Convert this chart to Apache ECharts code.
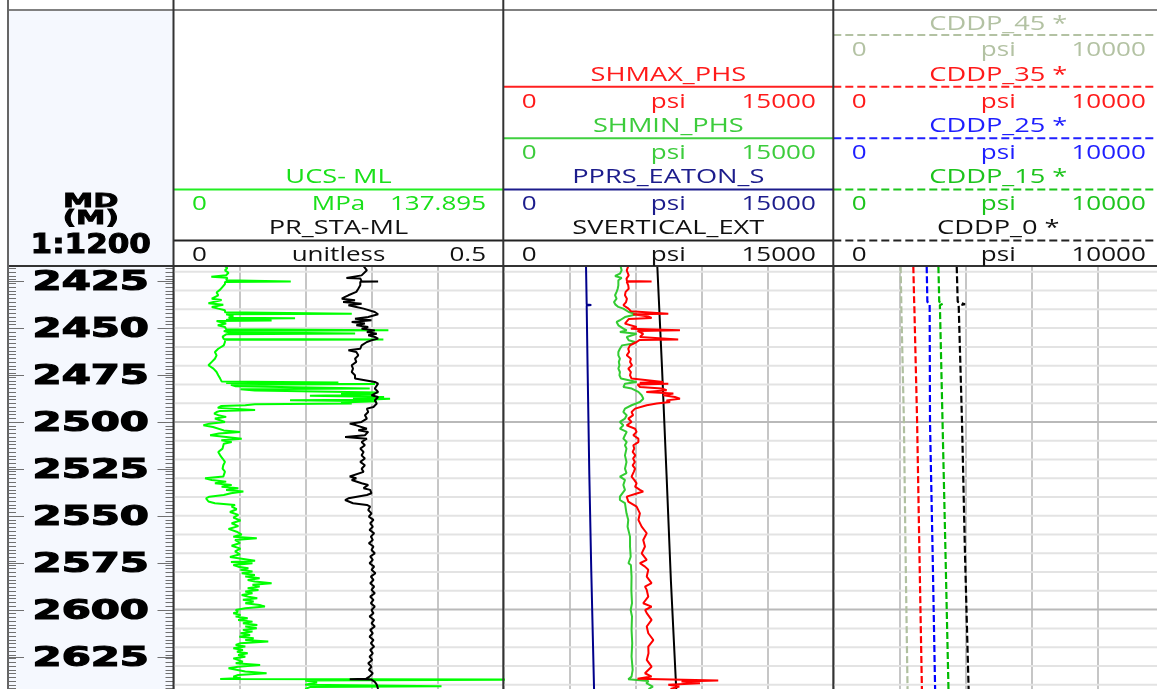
<!DOCTYPE html>
<html><head><meta charset="utf-8">
<script src="https://cdn.jsdelivr.net/npm/echarts@6/dist/echarts.min.js"></script>
<style>html,body{margin:0;padding:0;background:#fff;overflow:hidden}#c{width:1157px;height:689px}</style>
</head><body><div id="c"></div>
<script>
// ---------------- depth axis ----------------
const depthMin = 2416.9, depthMax = 2642.3;
const depthLabels = [2425, 2450, 2475, 2500, 2525, 2550, 2575, 2600, 2625];
const gridDepths = [2420,2430,2440,2450,2460,2470,2480,2490,2500,2510,2520,2530,2540,2550,2560,2570,2580,2590,2600,2610,2620,2630,2640];
const minorTickStep = 2;

// ---------------- curves: [depth (m), value] ----------------
const ucsData = [[2417.0,21.5],[2418.0,22.5],[2419.2,21.5],[2420.5,23.0],[2421.8,22.0],[2422.6,15.8],[2423.2,22.5],[2424.5,22.0],[2425.0,22.0],[2425.2,49.0],[2425.4,21.5],[2426.5,21.5],[2428.0,20.5],[2429.5,19.5],[2431.0,18.0],[2432.5,18.7],[2434.3,16.0],[2435.0,20.1],[2436.7,14.6],[2437.6,20.8],[2438.7,16.0],[2439.6,18.7],[2440.5,21.5],[2441.6,21.5],[2442.3,74.5],[2442.6,22.0],[2443.5,25.0],[2444.5,23.0],[2444.7,50.8],[2445.0,25.0],[2445.7,22.0],[2445.9,41.0],[2446.2,18.0],[2447.5,22.0],[2448.5,18.5],[2449.4,21.5],[2450.6,22.0],[2451.2,89.8],[2451.5,21.0],[2452.2,23.0],[2452.9,75.9],[2453.3,22.0],[2454.5,20.5],[2455.8,21.0],[2456.0,87.7],[2456.3,21.5],[2457.4,21.5],[2459.2,21.0],[2461.0,18.7],[2462.7,17.3],[2464.5,18.0],[2466.3,17.3],[2468.0,16.0],[2469.8,14.6],[2471.6,16.7],[2473.4,18.0],[2475.1,18.7],[2476.9,19.5],[2478.4,20.1],[2479.0,68.9],[2479.3,22.0],[2479.8,84.2],[2480.2,24.0],[2481.0,26.0],[2482.2,82.0],[2482.6,28.0],[2483.3,34.0],[2483.8,60.0],[2484.3,85.6],[2484.9,70.0],[2485.5,84.0],[2486.1,57.0],[2486.7,88.0],[2487.2,75.0],[2487.6,90.5],[2488.2,80.0],[2488.5,48.7],[2489.0,85.0],[2489.6,70.0],[2490.2,74.5],[2490.6,34.0],[2491.1,30.0],[2491.5,20.0],[2492.5,18.5],[2493.0,19.0],[2493.6,34.1],[2494.1,19.5],[2494.7,18.0],[2495.5,17.0],[2496.4,18.7],[2497.3,22.0],[2498.2,17.3],[2499.1,18.0],[2500.0,21.5],[2500.9,15.0],[2501.8,12.5],[2502.7,16.5],[2503.6,17.3],[2504.5,21.0],[2505.3,27.8],[2506.2,19.0],[2507.1,15.3],[2508.0,22.0],[2508.9,28.5],[2509.8,20.0],[2510.7,24.3],[2511.6,21.0],[2512.4,21.5],[2514.2,20.5],[2516.0,18.7],[2517.8,19.5],[2519.5,20.5],[2521.3,21.5],[2523.1,20.8],[2524.9,20.5],[2526.5,21.5],[2527.3,22.0],[2529.1,20.8],[2530.0,13.2],[2530.9,16.0],[2531.8,22.0],[2532.7,17.3],[2533.6,24.3],[2534.5,20.1],[2535.3,27.1],[2536.2,22.0],[2537.1,29.2],[2538.0,24.0],[2538.9,21.0],[2539.8,15.0],[2540.7,13.6],[2541.6,13.9],[2542.4,14.6],[2543.3,17.3],[2544.2,25.7],[2545.1,24.3],[2546.5,26.4],[2548.0,23.6],[2549.5,27.1],[2551.0,25.0],[2552.5,28.0],[2554.0,24.3],[2555.5,27.1],[2557.0,23.0],[2558.5,26.4],[2560.0,28.5],[2561.2,25.0],[2562.0,34.8],[2562.9,25.7],[2564.5,27.8],[2566.0,24.3],[2567.5,28.0],[2569.0,25.7],[2570.5,27.8],[2572.0,23.6],[2573.9,34.1],[2574.6,24.0],[2575.3,33.0],[2576.2,25.0],[2577.1,27.0],[2578.0,31.3],[2578.8,28.0],[2579.7,33.0],[2580.6,28.5],[2581.5,34.0],[2582.4,30.0],[2583.3,36.0],[2584.2,31.0],[2585.0,34.0],[2585.9,41.0],[2586.8,33.0],[2587.7,36.0],[2588.6,31.0],[2589.5,35.5],[2590.4,30.0],[2591.3,33.0],[2592.2,28.5],[2593.1,31.3],[2594.0,35.0],[2594.8,29.0],[2595.7,33.5],[2596.6,30.0],[2597.5,36.0],[2598.4,38.2],[2599.3,30.0],[2600.2,26.0],[2601.1,27.0],[2601.9,25.0],[2602.8,28.0],[2603.7,26.0],[2604.6,31.0],[2605.5,27.0],[2606.4,33.0],[2607.3,29.0],[2608.2,35.0],[2609.0,30.0],[2609.9,34.8],[2610.8,29.0],[2611.7,33.0],[2612.6,28.0],[2613.5,32.0],[2614.4,27.5],[2615.3,33.5],[2616.2,30.0],[2617.0,39.6],[2617.9,28.0],[2618.8,26.0],[2619.7,30.0],[2620.6,25.0],[2621.5,29.0],[2622.4,26.5],[2623.3,31.0],[2624.2,27.0],[2625.1,30.0],[2626.0,25.0],[2626.8,24.3],[2627.7,29.0],[2628.6,26.0],[2629.5,36.2],[2630.4,27.0],[2631.3,23.0],[2632.1,22.9],[2633.0,30.0],[2633.9,38.9],[2634.8,27.0],[2635.7,25.0],[2636.5,28.0],[2637.0,19.5],[2637.3,145],[2637.8,55],[2638.8,60],[2640.0,55],[2640.8,112],[2641.3,57],[2642.3,55]];

const prData = [[2417.0,0.288],[2419.2,0.293],[2421.9,0.285],[2423.3,0.262],[2423.6,0.283],[2425.0,0.285],[2425.15,0.310],[2425.3,0.283],[2427.2,0.283],[2429.0,0.280],[2430.7,0.277],[2432.5,0.265],[2433.4,0.260],[2434.3,0.255],[2435.2,0.275],[2436.1,0.257],[2437.0,0.285],[2437.8,0.265],[2438.7,0.277],[2439.6,0.288],[2441.4,0.305],[2442.6,0.310],[2444.1,0.295],[2445.0,0.275],[2445.8,0.300],[2446.7,0.270],[2447.6,0.290],[2448.5,0.277],[2449.4,0.295],[2450.3,0.285],[2451.2,0.305],[2452.1,0.293],[2453.0,0.308],[2453.8,0.295],[2454.7,0.305],[2455.6,0.310],[2456.5,0.300],[2457.4,0.293],[2459.2,0.285],[2461.0,0.283],[2461.8,0.265],[2462.7,0.277],[2464.5,0.280],[2466.3,0.275],[2468.0,0.277],[2469.8,0.270],[2471.6,0.272],[2473.4,0.270],[2475.1,0.275],[2476.9,0.275],[2477.8,0.272],[2478.7,0.305],[2479.6,0.310],[2480.5,0.313],[2482.2,0.305],[2484.0,0.310],[2485.8,0.300],[2486.7,0.310],[2488.5,0.305],[2490.2,0.308],[2491.1,0.310],[2492.0,0.303],[2492.9,0.293],[2494.7,0.295],[2496.4,0.290],[2498.2,0.293],[2500.0,0.285],[2500.9,0.267],[2501.8,0.277],[2503.6,0.293],[2504.4,0.280],[2505.3,0.295],[2507.1,0.290],[2508.0,0.260],[2508.9,0.293],[2510.7,0.285],[2512.4,0.290],[2514.2,0.283],[2516.0,0.288],[2517.8,0.285],[2519.5,0.290],[2521.3,0.283],[2523.1,0.290],[2524.9,0.285],[2526.6,0.288],[2527.3,0.285],[2529.1,0.267],[2530.0,0.277],[2530.9,0.270],[2532.7,0.285],[2533.6,0.295],[2535.3,0.288],[2536.2,0.298],[2538.0,0.300],[2538.9,0.293],[2540.7,0.265],[2541.6,0.260],[2542.4,0.262],[2543.3,0.272],[2544.2,0.293],[2545.1,0.298],[2546.9,0.295],[2548.7,0.300],[2550.5,0.296],[2552.2,0.303],[2554.0,0.298],[2555.8,0.302],[2557.5,0.297],[2559.3,0.304],[2561.1,0.299],[2562.9,0.302],[2564.6,0.296],[2566.4,0.303],[2568.2,0.300],[2570.0,0.305],[2571.7,0.298],[2573.5,0.302],[2575.3,0.297],[2577.1,0.304],[2578.8,0.300],[2580.6,0.306],[2582.4,0.299],[2584.2,0.303],[2585.9,0.298],[2587.7,0.304],[2589.5,0.300],[2591.3,0.305],[2593.1,0.298],[2594.8,0.303],[2596.6,0.299],[2598.4,0.305],[2600.2,0.300],[2601.9,0.303],[2603.7,0.297],[2605.5,0.304],[2607.3,0.300],[2609.0,0.305],[2610.8,0.298],[2612.6,0.302],[2614.4,0.297],[2616.2,0.303],[2617.9,0.299],[2619.7,0.304],[2621.5,0.298],[2623.3,0.302],[2625.1,0.297],[2626.8,0.301],[2628.6,0.295],[2630.4,0.300],[2632.1,0.296],[2633.9,0.302],[2635.7,0.297],[2636.8,0.292],[2637.1,0.267],[2637.3,0.300],[2638.5,0.305],[2640.0,0.308],[2642.3,0.310]];

const shmaxData = [[2417.0,5680],[2419.2,5610],[2421.9,5700],[2423.6,5600],[2424.9,5620],[2425.1,6740],[2425.3,5610],[2427.2,5680],[2429.0,5700],[2430.7,5560],[2432.5,5530],[2434.3,5620],[2436.1,5580],[2437.8,5460],[2439.6,5690],[2441.0,5800],[2442.3,7500],[2442.6,5900],[2443.8,6590],[2444.6,6740],[2445.2,5700],[2447.6,5530],[2449.4,6060],[2450.3,5800],[2451.2,8030],[2451.5,6100],[2453.0,6360],[2454.7,6210],[2456.0,7950],[2456.3,6200],[2457.4,6060],[2459.2,5760],[2461.0,5680],[2462.7,5720],[2464.5,5610],[2466.3,5800],[2468.0,5760],[2469.8,5850],[2471.6,5680],[2473.4,5800],[2475.1,5760],[2476.9,5830],[2477.8,5900],[2478.7,7270],[2479.1,6200],[2479.6,7500],[2480.0,6100],[2481.4,6210],[2482.2,7200],[2483.1,7425],[2484.0,6500],[2484.9,7730],[2485.8,7270],[2486.7,7800],[2487.6,8030],[2488.5,7420],[2489.4,7580],[2490.2,6970],[2491.1,6520],[2492.9,5990],[2494.7,5830],[2496.4,5900],[2498.2,5680],[2500.0,5830],[2501.8,5610],[2503.6,5990],[2505.3,6060],[2507.1,5910],[2508.9,6140],[2510.7,6140],[2512.4,5910],[2514.2,5950],[2516.0,5880],[2517.8,6000],[2519.5,5900],[2521.3,5980],[2523.1,5880],[2524.9,5990],[2526.6,5930],[2527.3,5990],[2529.1,5830],[2530.9,5950],[2532.7,6060],[2534.5,5990],[2536.2,6210],[2537.1,6360],[2538.0,6100],[2539.8,5610],[2542.4,5680],[2545.1,6060],[2548.7,6210],[2552.2,6140],[2555.8,6290],[2559.3,6520],[2562.9,6360],[2566.4,6440],[2570.0,6290],[2573.5,6520],[2575.3,6210],[2577.1,6440],[2578.8,6590],[2582.4,6520],[2585.9,6740],[2587.7,6440],[2589.5,6520],[2593.1,6590],[2596.6,6360],[2598.4,6740],[2600.2,6450],[2601.9,6520],[2605.5,6740],[2609.0,6520],[2612.6,6590],[2616.2,6820],[2619.7,6590],[2623.3,6600],[2626.8,6520],[2630.4,6740],[2633.9,6440],[2635.7,6740],[2636.8,6100],[2637.1,6060],[2637.8,9770],[2638.3,8100],[2639.2,8940],[2640.1,7500],[2641.0,8000],[2642.3,7600]];

const shminData = [[2417.0,5330],[2419.2,5380],[2421.0,5300],[2422.2,5080],[2423.3,5380],[2424.5,5230],[2425.4,5300],[2427.2,5230],[2429.0,5200],[2430.7,5150],[2432.5,5080],[2434.3,5150],[2436.1,5030],[2437.5,5100],[2438.7,5230],[2439.6,5456],[2441.4,5700],[2442.6,6060],[2444.1,5530],[2445.8,5300],[2446.7,5150],[2448.5,5230],[2450.3,5460],[2451.2,5610],[2452.1,5300],[2453.0,6060],[2454.7,5610],[2456.5,5700],[2457.4,5990],[2458.3,5840],[2459.2,5400],[2461.0,5300],[2462.7,5230],[2464.5,5230],[2466.3,5300],[2468.0,5250],[2469.8,5280],[2471.6,5230],[2473.4,5300],[2475.1,5280],[2476.9,5350],[2477.8,5380],[2478.7,6060],[2479.6,5530],[2481.4,5460],[2482.2,5840],[2484.0,6140],[2485.8,6290],[2487.6,6365],[2489.4,6210],[2491.1,5830],[2492.9,5530],[2494.7,5456],[2496.4,5610],[2498.2,5530],[2500.0,5300],[2501.8,5456],[2503.6,5300],[2505.3,5610],[2507.1,5530],[2508.9,5456],[2510.7,5610],[2512.4,5530],[2514.2,5600],[2517.8,5530],[2521.3,5600],[2524.9,5530],[2527.3,5600],[2529.1,5300],[2530.9,5530],[2533.6,5456],[2536.2,5530],[2539.8,5300],[2541.6,5300],[2543.3,5530],[2548.7,5600],[2552.2,5680],[2555.8,5650],[2561.1,5760],[2566.4,5760],[2571.8,5790],[2575.3,5690],[2576.2,5800],[2582.4,5830],[2589.5,5820],[2596.6,5850],[2600.2,5790],[2603.7,5850],[2610.8,5830],[2617.9,5860],[2625.0,5830],[2632.1,5880],[2635.7,5830],[2637.1,5680],[2638.0,6600],[2639.2,6500],[2641.0,6800],[2642.3,6600]];

const pprsData = [[2417.0,3760],[2437.4,3790],[2437.7,4000],[2438.0,3790],[2470.0,3830],[2528.0,3910],[2580.0,4000],[2642.3,4125]];
const svertData = [[2417.0,7000],[2470.0,7210],[2528.0,7420],[2585.0,7620],[2642.3,7860]];

const cddp45Data = [[2417.0,2040],[2436.0,2060],[2437.0,2110],[2437.8,2060],[2500.0,2140],[2570.0,2190],[2642.3,2250]];
const cddp35Data = [[2417.0,2425],[2436.0,2450],[2437.0,2510],[2437.8,2455],[2500.0,2540],[2570.0,2610],[2642.3,2685]];
const cddp25Data = [[2417.0,2830],[2436.0,2850],[2437.0,2920],[2437.8,2860],[2500.0,2930],[2570.0,3010],[2642.3,3085]];
const cddp15Data = [[2417.0,3185],[2436.0,3210],[2437.0,3320],[2437.8,3230],[2500.0,3310],[2570.0,3400],[2642.3,3490]];
const cddp0Data  = [[2417.0,3740],[2436.0,3770],[2437.3,3990],[2438.0,3800],[2500.0,3900],[2570.0,3990],[2642.3,4100]];

// ---------------- header texts ----------------
const track1Scale = {min: 0, max: 137.895, prMax: 0.5};
const track2Scale = {min: 0, max: 15000};
const track3Scale = {min: 0, max: 10000};
const track1Heads = [
  {row: 3, name: 'UCS- ML', unit: 'MPa', lo: '0', hi: '137.895', color: '#1ae01a', line: '#22ee22'},
  {row: 4, name: 'PR_STA-ML', unit: 'unitless', lo: '0', hi: '0.5', color: '#111111', line: '#222222'}
];
const track2Heads = [
  {row: 1, name: 'SHMAX_PHS', unit: 'psi', lo: '0', hi: '15000', color: '#ff1a1a', line: '#ff2020'},
  {row: 2, name: 'SHMIN_PHS', unit: 'psi', lo: '0', hi: '15000', color: '#3ccc3c', line: '#40d040'},
  {row: 3, name: 'PPRS_EATON_S', unit: 'psi', lo: '0', hi: '15000', color: '#1c1c8c', line: '#1c1c8c'},
  {row: 4, name: 'SVERTICAL_EXT', unit: 'psi', lo: '0', hi: '15000', color: '#111111', line: '#222222'}
];
const track3Heads = [
  {row: 0, name: 'CDDP_45 *', unit: 'psi', lo: '0', hi: '10000', color: '#b3c2a3', line: '#b3c2a3'},
  {row: 1, name: 'CDDP_35 *', unit: 'psi', lo: '0', hi: '10000', color: '#ff1a1a', line: '#ff2020'},
  {row: 2, name: 'CDDP_25 *', unit: 'psi', lo: '0', hi: '10000', color: '#1e1eff', line: '#2020ff'},
  {row: 3, name: 'CDDP_15 *', unit: 'psi', lo: '0', hi: '10000', color: '#1cc41c', line: '#1cc41c'},
  {row: 4, name: 'CDDP_0 *', unit: 'psi', lo: '0', hi: '10000', color: '#111111', line: '#222222'}
];
const depthHead = ['MD', '(M)', '1:1200'];

// ---------------- layout ----------------
const W = 1157, H = 689, TOP = 266;
const depthTrack = {left: 8, width: 165.5};
const tracks = [{left: 173.5, width: 330}, {left: 503.3, width: 330}, {left: 833.3, width: 330}];
const nameY = [24, 75.3, 126.5, 177.5, 228.3];
const lineY = [35, 86.8, 138.3, 189.5, 240.5];
const rangeY = [50.5, 102, 153.3, 204.5, 255.5];
const HFONT = '20px "Open Sans"', HSX = 1.3, NSX = 1.36;

const chart = echarts.init(document.getElementById('c'), null, {renderer: 'canvas'});

function grid(t) { return {left: t.left, width: t.width, top: TOP, bottom: 0, containLabel: false, outerBoundsMode: 'none', show: false}; }
function yAx(gi) { return {type: 'value', gridIndex: gi, inverse: true, min: depthMin, max: depthMax, show: false, splitLine: {show: false}}; }
function xAx(gi, max, splits) {
  return {type: 'value', gridIndex: gi, min: 0, max: max, interval: max / 5, show: true,
    axisLine: {show: false}, axisTick: {show: false}, axisLabel: {show: false},
    splitLine: {show: splits, lineStyle: {color: '#c6c6c6', width: 2}}};
}
function line(name, data, xi, yi, color, dashed) {
  return {type: 'line', name, xAxisIndex: xi, yAxisIndex: yi, data: data.map(p => [p[1], p[0]]),
    showSymbol: false, symbol: 'none', z: 3, silent: true, animation: false, clip: true,
    lineStyle: {color, width: dashed ? 2.2 : 2, type: dashed ? [7, 3] : 'solid'}};
}
function hgrid(xi, yi) {
  return {type: 'custom', xAxisIndex: xi, yAxisIndex: yi, z: 1, silent: true, animation: false,
    data: gridDepths.map(d => [0, d]), encode: {x: 0, y: 1},
    renderItem(params, api) {
      const d = api.value(1);
      const y = api.coord([0, d])[1];
      const cs = params.coordSys;
      return {type: 'line', shape: {x1: cs.x, y1: y, x2: cs.x + cs.width, y2: y},
        style: {stroke: d % 100 === 0 ? '#b9b9b9' : '#e3e3e3', lineWidth: 2}};
    }};
}

// depth ticks
const depthTickData = [];
for (let d = 2418; d <= 2642; d += minorTickStep) depthTickData.push([0, d, 0]);
depthLabels.forEach(d => depthTickData.push([0, d, 1]));

const depthSeries = {type: 'custom', xAxisIndex: 0, yAxisIndex: 0, z: 5, silent: true, animation: false,
  data: depthTickData, encode: {x: 0, y: 1},
  renderItem(params, api) {
    const d = api.value(1), major = api.value(2);
    const y = Math.round(api.coord([0, d])[1]) + 0.5;
    const cs = params.coordSys;
    const L = major ? 16 : 8;
    const ch = [
      {type: 'line', shape: {x1: cs.x, y1: y, x2: cs.x + L, y2: y}, style: {stroke: '#707070', lineWidth: 1}},
      {type: 'line', shape: {x1: cs.x + cs.width - L, y1: y, x2: cs.x + cs.width, y2: y}, style: {stroke: '#707070', lineWidth: 1}}
    ];
    if (major) ch.push({type: 'text', x: cs.x + cs.width / 2, y: y + 1, scaleX: 1.55,
      style: {text: String(d), font: 'bold 27px "DejaVu Sans"', fill: '#000', stroke: '#000', lineWidth: 1.2,
        align: 'center', verticalAlign: 'middle'}});
    return {type: 'group', children: ch};
  }};

// graphics
const G = [];
G.push({type: 'rect', z: 0, silent: true, shape: {x: depthTrack.left, y: 10, width: depthTrack.width, height: H - 10}, style: {fill: '#f5f8fe'}});
function T(x, y, text, color, align, font, sx, bold) {
  const st = {text, fill: color, font, align, verticalAlign: 'middle'};
  if (bold) { st.stroke = color; st.lineWidth = bold; }
  return {type: 'text', x, y, scaleX: sx, z: 60, silent: true, style: st};
}
function L(x1, y1, x2, y2, color, w, dash) {
  return {type: 'line', z: 55, silent: true, shape: {x1, y1, x2, y2}, style: {stroke: color, lineWidth: w, lineDash: dash || null}};
}
function headers(t, heads, dashed) {
  const cx = t.left + t.width / 2, r = t.left + t.width;
  heads.forEach(h => {
    G.push(T(cx, nameY[h.row], h.name, h.color, 'center', HFONT, NSX));
    G.push(L(t.left, lineY[h.row], r, lineY[h.row], h.line, 2, dashed ? [8, 4] : null));
    G.push(T(t.left + 18.5, rangeY[h.row], h.lo, h.color, 'left', HFONT, HSX));
    G.push(T(cx, rangeY[h.row], h.unit, h.color, 'center', HFONT, HSX));
    G.push(T(r - 17.5, rangeY[h.row], h.hi, h.color, 'right', HFONT, HSX));
  });
}
headers(tracks[0], track1Heads, false);
headers(tracks[1], track2Heads, false);
headers(tracks[2], track3Heads, true);
const dcx = depthTrack.left + depthTrack.width / 2;
G.push(T(dcx, 202, depthHead[0], '#000', 'center', 'bold 19px "DejaVu Sans"', 1.6, 0.8));
G.push(T(dcx, 219.5, depthHead[1], '#000', 'center', 'bold 19px "DejaVu Sans"', 1.55, 0.8));
G.push(T(dcx, 245.5, depthHead[2], '#000', 'center', 'bold 27px "DejaVu Sans"', 1.15, 1.0));
// frame
G.push(L(8, 10, W, 10, '#808080', 2));
G.push(L(8, TOP, W, TOP, '#333', 2));
G.push(L(8, 0, 8, H, '#666', 2));
[tracks[0].left, tracks[1].left, tracks[2].left].forEach(x => G.push(L(x, 0, x, H, '#333', 2)));

chart.setOption({
  animation: false,
  backgroundColor: '#ffffff',
  grid: [grid(depthTrack), grid(tracks[0]), grid(tracks[1]), grid(tracks[2])],
  xAxis: [
    {type: 'value', gridIndex: 0, min: 0, max: 1, show: false},
    xAx(1, track1Scale.max, true),
    xAx(1, track1Scale.prMax, false),
    xAx(2, track2Scale.max, true),
    xAx(3, track3Scale.max, true)
  ],
  yAxis: [yAx(0), yAx(1), yAx(2), yAx(3)],
  graphic: {elements: G},
  series: [
    depthSeries,
    hgrid(1, 1), hgrid(3, 2), hgrid(4, 3),
    line('UCS- ML', ucsData, 1, 1, '#00ff00'),
    line('PR_STA-ML', prData, 2, 1, '#000000'),
    line('PPRS_EATON_S', pprsData, 3, 2, '#00008b'),
    line('SVERTICAL_EXT', svertData, 3, 2, '#000000'),
    line('SHMIN_PHS', shminData, 3, 2, '#33cc33'),
    line('SHMAX_PHS', shmaxData, 3, 2, '#ff0000'),
    line('CDDP_45 *', cddp45Data, 4, 3, '#b0c0a0', true),
    line('CDDP_35 *', cddp35Data, 4, 3, '#ff0000', true),
    line('CDDP_25 *', cddp25Data, 4, 3, '#0000ff', true),
    line('CDDP_15 *', cddp15Data, 4, 3, '#00bb00', true),
    line('CDDP_0 *', cddp0Data, 4, 3, '#000000', true)
  ]
});
</script></body></html>
